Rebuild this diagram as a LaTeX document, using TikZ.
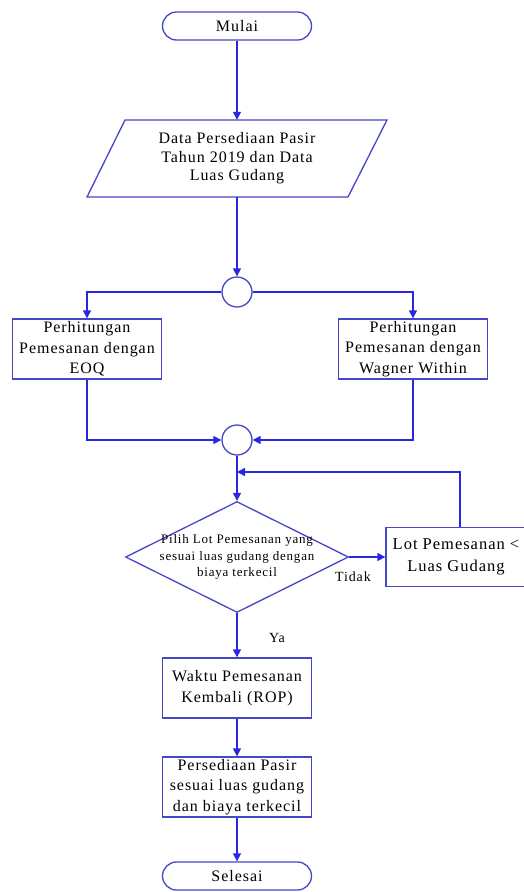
\documentclass[tikz,border=0pt]{standalone}
\usepackage{fontspec}
\setmainfont{Liberation Serif}[LetterSpace=6]
\usetikzlibrary{shapes.geometric,arrows.meta}
\definecolor{lineblue}{RGB}{40,40,225}
\definecolor{boxblue}{RGB}{70,70,200}
\begin{document}
\begin{tikzpicture}[x=1pt,y=-1pt,
  conn/.style={draw=lineblue, line width=1.4pt, -{Triangle[length=8pt,width=8pt]}},
  box/.style={draw=boxblue, line width=1.3pt, rectangle, minimum width=149pt, minimum height=60pt, inner sep=0pt, align=center, font=\fontsize{16}{20.5}\selectfont},
  term/.style={draw=boxblue, line width=1.3pt, rectangle, rounded corners=14pt, minimum width=149pt, minimum height=28pt, inner sep=0pt, font=\fontsize{16}{20}\selectfont},
  junc/.style={circle, draw=boxblue, line width=1.3pt, minimum size=30pt, inner sep=0pt},
  lbl/.style={inner sep=0pt, font=\fontsize{14}{17}\selectfont}
]
\useasboundingbox (0,0) rectangle (523,892);
\fill[white] (0,0) rectangle (523,892);

% nodes
\node[term] (start) at (237,26) {Mulai};

\draw[draw=boxblue, line width=1.3pt] (125,120) -- (387,120) -- (348,197) -- (87,197) -- cycle;
\node[minimum width=262pt, minimum height=77pt, inner sep=0pt, align=center, font=\fontsize{16}{18.5}\selectfont] (data) at (237,158.5)
  {Data Persediaan Pasir\\Tahun 2019 dan Data\\Luas Gudang};

\node[junc] (c1) at (237,292) {};
\node[box] (eoq) at (87,349) {Perhitungan\\Pemesanan dengan\\EOQ};
\node[box] (ww) at (413,349) {Perhitungan\\Pemesanan dengan\\Wagner Within};
\node[junc] (c2) at (237,440) {};
\coordinate (j) at (237,472);

\node[diamond, draw=boxblue, line width=1.3pt, minimum width=223pt, minimum height=111pt, inner sep=0pt] (dec) at (237,557) {};
\node[align=center, inner sep=0pt, font=\fontsize{13}{16.5}\selectfont] (dectext) at (237,557)
  {Pilih Lot Pemesanan yang\\sesuai luas gudang dengan\\biaya terkecil};

\node[draw=boxblue, line width=1.3pt, rectangle, minimum width=148pt, minimum height=59pt, inner sep=0pt] (lot) at (460,557) {};
\node[align=center, inner sep=0pt, font=\fontsize{16.5}{22}\selectfont] (lottext) at (456,557)
  {Lot Pemesanan <\\Luas Gudang};

\node[box] (rop) at (237,688) {Waktu Pemesanan\\Kembali (ROP)};
\node[box] (pers) at (237,787) {Persediaan Pasir\\sesuai luas gudang\\dan biaya terkecil};
\node[term] (end) at (237,876) {Selesai};

\node[lbl] (tidak) at (353,577) {Tidak};
\node[lbl] (ya) at (277,638) {Ya};

% connectors
\draw[conn] (start.south) -- (data.north);
\draw[conn] (data.south) -- (c1.north);
\draw[conn] (c1.west) -| (eoq.north);
\draw[conn] (c1.east) -| (ww.north);
\draw[conn] (eoq.south) |- (c2.west);
\draw[conn] (ww.south) |- (c2.east);
\draw[conn] (c2.south) -- (dec.north);
\draw[conn] (lot.north) |- (j);
\draw[conn] (dec.east) -- (lot.west);
\draw[conn] (dec.south) -- (rop.north);
\draw[conn] (rop.south) -- (pers.north);
\draw[conn] (pers.south) -- (end.north);
\end{tikzpicture}
\end{document}
